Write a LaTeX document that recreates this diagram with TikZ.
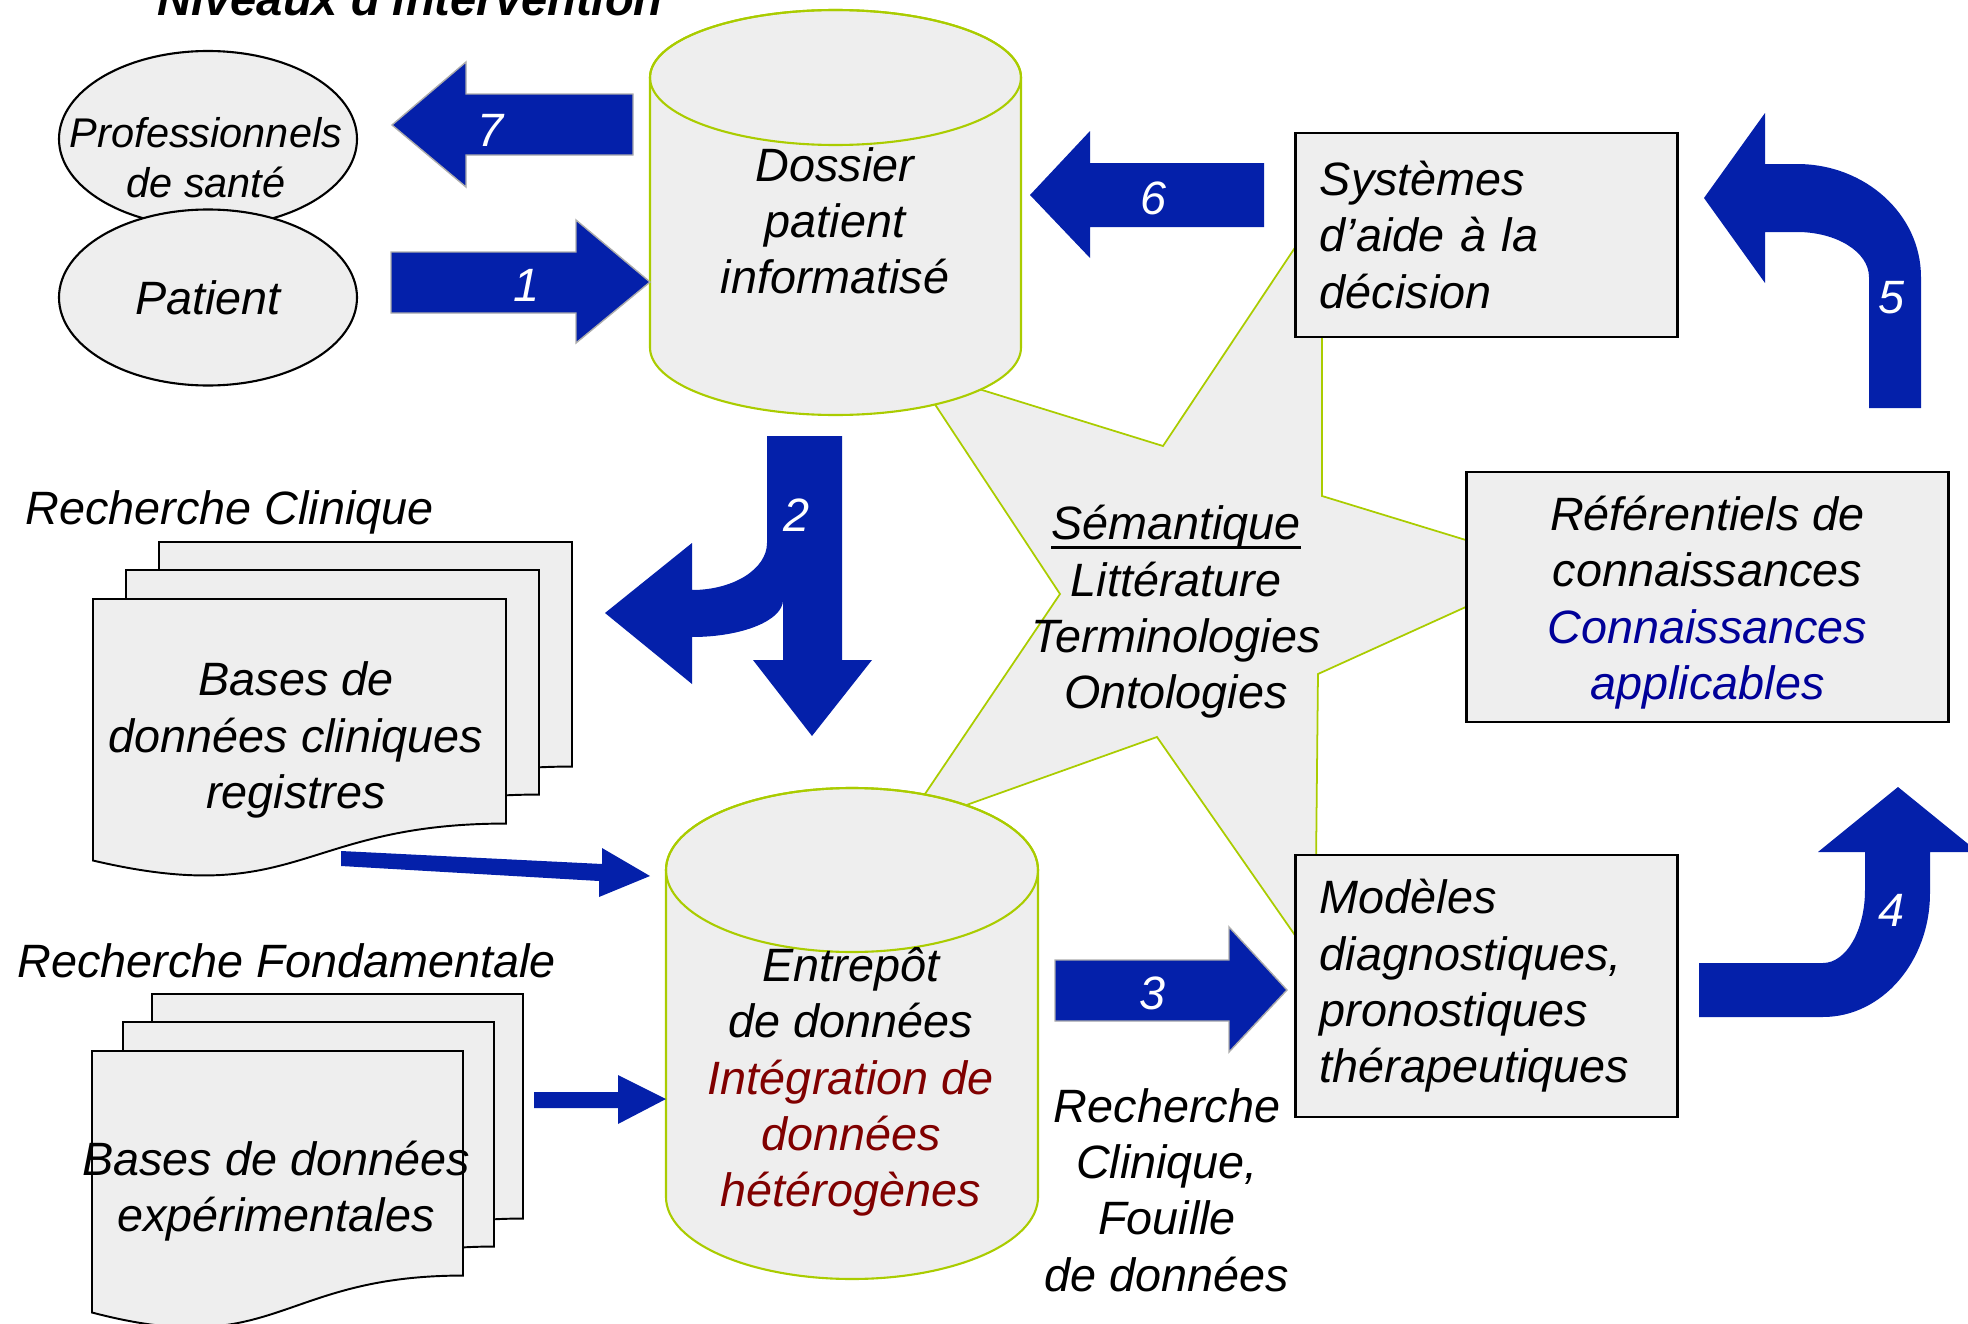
\documentclass[tikz,border=0pt]{standalone}
\usepackage{fontspec}
\setmainfont{Liberation Sans}
\usepackage{tikz}

\definecolor{arrowblue}{RGB}{4,32,170}
\definecolor{limeline}{RGB}{170,204,0}
\definecolor{boxgray}{RGB}{238,238,238}
\definecolor{darkred}{RGB}{128,0,0}
\definecolor{textblue}{RGB}{0,0,153}

\newcommand\thickunder[1]{{\setbox0\hbox{#1}\rlap{\rule[-2.6pt]{\wd0}{0.9pt}}\box0}}

\tikzset{
  sheet/.style={fill=boxgray, draw=black, line width=0.55pt},
  pics/docpage/.style n args={2}{code={
    \filldraw[sheet] (0,0) -- ({#1},0) -- ({#1},{0.802*#2})
      .. controls ({0.5*#1},{0.802*#2}) and ({0.5*#1},{1.1075*#2}) .. (0,{0.934*#2}) -- cycle;
  }}
}

\begin{document}
\begin{tikzpicture}[x=0.01cm,y=-0.01cm,
    txt/.style={font=\itshape\fontsize{13.3}{16}\selectfont, inner sep=0pt, align=center},
    num/.style={font=\itshape\fontsize{13.3}{16}\selectfont, text=white, inner sep=0pt},
    box/.style={draw=black, line width=0.8pt, fill=boxgray, inner xsep=0.24cm, inner ysep=0pt,
                font=\itshape\fontsize{13.3}{16}\selectfont},
    blockarrow/.style={fill=arrowblue},
    edged/.style={fill=arrowblue, draw=gray!65, line width=0.4pt},
    drum/.style={fill=boxgray, draw=limeline, line width=0.6pt},
    oval/.style={fill=boxgray, draw=black, line width=0.6pt}]

  \useasboundingbox (0,0) rectangle (1968,1324);
  \clip (0,0) rectangle (1968,1324);

  % etoile semantique
  \filldraw[fill=boxgray, draw=limeline, line width=0.5pt] (911,368) -- (1163,446) -- (1322,207) -- (1322,496)
    -- (1554,567) -- (1318,674) -- (1315,964) -- (1157,737) -- (902,828) -- (1060,594) -- cycle;

  % niveaux d'intervention
  \filldraw[oval] (208,139) ellipse [x radius=149, y radius=88];
  \filldraw[oval] (208,297.5) ellipse [x radius=149, y radius=88];

  % dossier patient
  \path[drum] (650,77.5) -- (650,347.5) arc[start angle=180, end angle=0, x radius=185.5, y radius=67.5]
    -- (1021,77.5) arc[start angle=0, end angle=-180, x radius=185.5, y radius=67.5] -- cycle;
  \draw[drum, fill=none] (835.5,77.5) ellipse [x radius=185.5, y radius=67.5];

  % entrepot
  \path[drum] (666,870) -- (666,1197) arc[start angle=180, end angle=0, x radius=186, y radius=82]
    -- (1038,870) arc[start angle=0, end angle=-180, x radius=186, y radius=82] -- cycle;
  \draw[drum, fill=none] (852,870) ellipse [x radius=186, y radius=82];

  % piles de documents
  \pic at (159,542) {docpage={413}{280}};
  \pic at (126,570) {docpage={413}{280}};
  \pic at (93,599) {docpage={413}{280}};
  \pic at (152,994) {docpage={371}{280}};
  \pic at (123,1022) {docpage={371}{280}};
  \pic at (92,1051) {docpage={371}{280}};

  % boites
  \node[box, text width=3.33cm, minimum height=2.04cm, align=left] (Systemes) at (1486.5,235)
    {Systèmes\\d’aide à la\\décision};
  \node[box, minimum width=4.81cm, minimum height=2.5cm, align=center] (Referentiels) at (1707.5,597)
    {\rule{0pt}{13pt}Référentiels de\\connaissances\\\textcolor{textblue}{Connaissances}\\\textcolor{textblue}{applicables}};
  \node[box, text width=3.33cm, minimum height=2.62cm, align=left] (Modeles) at (1486.5,986)
    {Modèles\\diagnostiques,\\pronostiques\\thérapeutiques};

  % fleches
  \filldraw[edged] (633,94) -- (466,94) -- (466,62) -- (392,125) -- (466,187) -- (466,155) -- (633,155) -- cycle;
  \filldraw[edged] (391,252) -- (576,252) -- (576,220) -- (650,282) -- (576,343) -- (576,313) -- (391,313) -- cycle;
  \fill[blockarrow] (1264,163) -- (1090,163) -- (1090,131) -- (1030,195) -- (1090,258) -- (1090,227) -- (1264,227) -- cycle;
  \filldraw[edged] (1055,960) -- (1229,960) -- (1229,927) -- (1287,990) -- (1229,1052) -- (1229,1021) -- (1055,1021) -- cycle;
  \fill[blockarrow] (767,436) -- (842,436) -- (842,660) -- (872,660) -- (812,736) -- (753,660) -- (783,660) -- (783,600)
    arc[start angle=0, end angle=90, x radius=91, y radius=37] -- (692,684) -- (605,613) -- (692,543) -- (692,590)
    arc[start angle=90, end angle=0, x radius=75, y radius=47] -- cycle;
  \fill[blockarrow] (1869,408) -- (1921,408) -- (1921,277) arc[start angle=0, end angle=-90, x radius=124, y radius=113]
    -- (1765,164) -- (1765,113) -- (1704,198) -- (1765,283) -- (1765,232) -- (1797,232)
    arc[start angle=-90, end angle=0, x radius=72, y radius=45] -- cycle;
  \fill[blockarrow] (1699,963) -- (1823,963) arc[start angle=90, end angle=0, x radius=42, y radius=73]
    -- (1865,852) -- (1818,852) -- (1898,787) -- (1978,852) -- (1930,852) -- (1930,893)
    arc[start angle=0, end angle=90, x radius=107, y radius=124] -- (1699,1017) -- cycle;
  \fill[blockarrow] (341,851) -- (602,864) -- (602,848) -- (650,876) -- (599,897) -- (599,881) -- (341,866) -- cycle;
  \fill[blockarrow] (534,1092) -- (618,1092) -- (618,1075) -- (666,1099) -- (618,1124) -- (618,1108) -- (534,1108) -- cycle;

  % numeros
  \node[num] (N1) at (527,285) {1};
  \node[num] (N2) at (797,515) {2};
  \node[num] (N3) at (1152,993) {3};
  \node[num] (N4) at (1891,910) {4};
  \node[num] (N5) at (1891,298) {5};
  \node[num] (N6) at (1154,198) {6};
  \node[num] (N7) at (491,130) {7};

  % textes
  \node[txt, font=\bfseries\itshape\fontsize{13.4}{16}\selectfont, anchor=base] (Title) at (410,15) {Niveaux d’intervention};
  \node[txt, font=\itshape\fontsize{11.8}{14.2}\selectfont] (Pros) at (206,158) {Professionnels\\de santé};
  \node[txt] (Patient) at (208,298) {Patient};
  \node[txt] (Dossier) at (835,221) {Dossier\\patient\\informatisé};
  \node[txt] (Entrepot) at (851,1082) {Entrepôt\\de données\\\textcolor{darkred}{Intégration de}\\\textcolor{darkred}{données}\\\textcolor{darkred}{hétérogènes}};
  \node[txt] (Semantique) at (1176,612) {\thickunder{Sémantique}\\Littérature\\Terminologies\\Ontologies};
  \node[txt] (Fouille) at (1167,1190) {Recherche\\Clinique,\\Fouille\\de données};
  \node[txt, anchor=base west] (RClin) at (25,524) {Recherche Clinique};
  \node[txt] (BDClin) at (296,740) {Bases de\\données cliniques\\registres};
  \node[txt, anchor=base west] (RFond) at (17,977) {Recherche Fondamentale};
  \node[txt] (BDExp) at (276,1191) {Bases de données\\expérimentales};
\end{tikzpicture}
\end{document}
